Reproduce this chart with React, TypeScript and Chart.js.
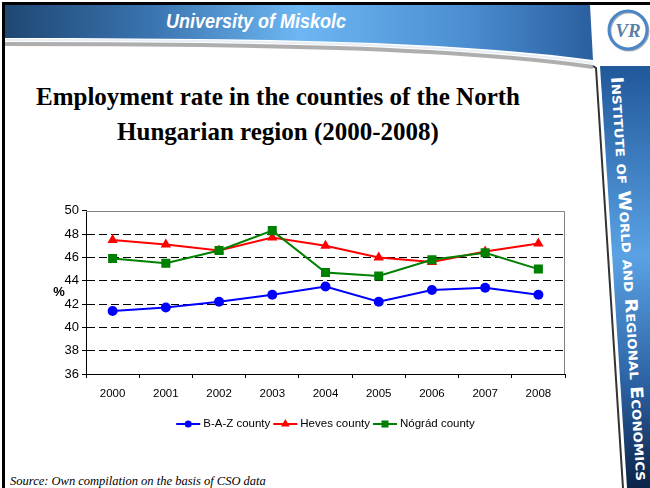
import React, { useEffect, useRef } from 'react';
import { Chart, registerables } from 'chart.js';

Chart.register(...registerables);

// ---- data ----
const years = ['2000', '2001', '2002', '2003', '2004', '2005', '2006', '2007', '2008'];
const bazValues = [41.4, 41.7, 42.2, 42.8, 43.5, 42.2, 43.2, 43.4, 42.8];
const hevesValues = [47.5, 47.1, 46.6, 47.7, 47.0, 46.0, 45.6, 46.5, 47.2];
const nogradValues = [45.9, 45.5, 46.6, 48.3, 44.7, 44.4, 45.8, 46.4, 45.0];
const seriesNames = ['B-A-Z county', 'Heves county', 'Nógrád county'];
const seriesColors = ['#0000FF', '#FF0000', '#008000'];
const seriesMarkers = ['circle', 'triangle', 'rect'];
const yMin = 36;
const yMax = 50;
const yStep = 2;
const yTitle = '%';
const chartTitleLines = ['Employment rate in the counties of the North', 'Hungarian region (2000-2008)'];
const headerText = 'University of Miskolc';
const sideText = 'Institute of World and Regional Economics';
const sourceText = 'Source: Own compilation on the basis of CSO data';

const SANS = '"Liberation Sans", Arial, sans-serif';

function drawMarker(ctx: CanvasRenderingContext2D, style: string, x: number, y: number, r: number, color: string) {
  ctx.save();
  ctx.fillStyle = color;
  ctx.beginPath();
  if (style === 'circle') {
    ctx.arc(x, y, r, 0, Math.PI * 2);
  } else if (style === 'triangle') {
    ctx.moveTo(x, y - r);
    ctx.lineTo(x + r * 0.866, y + r * 0.5);
    ctx.lineTo(x - r * 0.866, y + r * 0.5);
    ctx.closePath();
  } else {
    const s = r * 0.707;
    ctx.rect(x - s, y - s, 2 * s, 2 * s);
  }
  ctx.fill();
  ctx.restore();
}

const decorPlugin = {
  id: 'decor',
  beforeDatasetsDraw(chart: any) {
    const { ctx, chartArea } = chart;
    const top = Math.round(chartArea.top) + 0.5;
    const right = Math.round(chartArea.right) - 0.5;
    ctx.save();
    ctx.strokeStyle = '#808080';
    ctx.lineWidth = 1;
    ctx.beginPath();
    ctx.moveTo(chartArea.left, top);
    ctx.lineTo(right, top);
    ctx.lineTo(right, chartArea.bottom);
    ctx.stroke();
    ctx.restore();
  },
  afterDraw(chart: any) {
    const { ctx, chartArea } = chart;
    ctx.save();
    // y axis title (horizontal)
    ctx.font = `bold 13px ${SANS}`;
    ctx.fillStyle = '#000';
    ctx.textAlign = 'center';
    ctx.textBaseline = 'middle';
    ctx.fillText(yTitle, chartArea.left - 27, (chartArea.top + chartArea.bottom) / 2);

    // legend
    ctx.font = `11.5px ${SANS}`;
    const lineLen = 24;
    const gap = 3;
    const widths = seriesNames.map((n) => lineLen + gap + ctx.measureText(n).width);
    const total = widths.reduce((a, b) => a + b, 0) + gap * (seriesNames.length - 1);
    let x = (chartArea.left + chartArea.right) / 2 - total / 2;
    const y = chartArea.bottom + 50;
    seriesNames.forEach((name, i) => {
      ctx.strokeStyle = seriesColors[i];
      ctx.lineWidth = 2;
      ctx.beginPath();
      ctx.moveTo(x, y);
      ctx.lineTo(x + lineLen, y);
      ctx.stroke();
      drawMarker(ctx, seriesMarkers[i], x + lineLen / 2, y, seriesMarkers[i] === 'circle' ? 3.5 : 5, seriesColors[i]);
      ctx.fillStyle = '#000';
      ctx.textAlign = 'left';
      ctx.textBaseline = 'middle';
      ctx.fillText(name, x + lineLen + gap, y);
      x += widths[i] + gap;
    });
    ctx.restore();
  },
};

function LineChart() {
  const ref = useRef<HTMLCanvasElement | null>(null);
  useEffect(() => {
    if (!ref.current) return;
    const values = [bazValues, hevesValues, nogradValues];
    const radii = [5, 6, 6.4];
    const chart = new Chart(ref.current, {
      type: 'line',
      data: {
        labels: years,
        datasets: seriesNames.map((name, i) => ({
          label: name,
          data: values[i],
          borderColor: seriesColors[i],
          backgroundColor: seriesColors[i],
          borderWidth: 2,
          pointStyle: seriesMarkers[i] as any,
          pointRadius: radii[i],
          pointBackgroundColor: seriesColors[i],
          pointBorderColor: seriesColors[i],
          pointBorderWidth: 0,
          tension: 0,
          order: 3 - i,
        })),
      },
      options: {
        animation: false,
        responsive: false,
        devicePixelRatio: 1,
        layout: { padding: { left: 0, right: 15, top: 9, bottom: 0 } },
        plugins: { legend: { display: false }, tooltip: { enabled: false }, title: { display: false } },
        scales: {
          x: {
            offset: true,
            grid: {
              display: true,
              drawOnChartArea: false,
              drawTicks: true,
              tickLength: 4,
              offset: true,
              color: '#000',
            },
            border: { display: true, color: '#000', width: 1 },
            ticks: { color: '#000', font: { family: SANS, size: 11.5 }, padding: 9, maxRotation: 0, autoSkip: false },
            afterFit: (s: any) => {
              s.height = 71;
            },
          },
          y: {
            min: yMin,
            max: yMax,
            ticks: { stepSize: yStep, color: '#000', font: { family: SANS, size: 13 }, padding: 3 },
            grid: {
              color: (c: any) => (c.tick && (c.tick.value === yMax || c.tick.value === yMin) ? 'rgba(0,0,0,0)' : '#000'),
              tickColor: '#000',
              tickLength: 4,
              lineWidth: 1,
            },
            border: { display: true, color: '#000', width: 1, dash: [8, 4] },
            afterFit: (s: any) => {
              s.width = 46;
            },
          },
        },
      },
      plugins: [decorPlugin],
    });
    return () => chart.destroy();
  }, []);
  return (
    <canvas
      ref={ref}
      width={540}
      height={245}
      style={{ position: 'absolute', left: 40, top: 200, width: 540, height: 245 }}
    />
  );
}

export default function App() {
  return (
    <div style={{ position: 'fixed', left: 0, top: 0, width: 650, height: 488, overflow: 'hidden', background: '#fff' }}>
      <svg width="650" height="488" style={{ position: 'absolute', left: 0, top: 0 }}>
        <defs>
          <linearGradient id="hdr" x1="0" y1="0" x2="1" y2="0">
            <stop offset="0" stopColor="#1f4773" />
            <stop offset="0.25" stopColor="#3a74b0" />
            <stop offset="0.5" stopColor="#6db7f2" />
            <stop offset="0.78" stopColor="#4b8fd2" />
            <stop offset="1" stopColor="#2b5f9f" />
          </linearGradient>
          <linearGradient id="bar" x1="0" y1="0" x2="0" y2="1">
            <stop offset="0" stopColor="#20589a" />
            <stop offset="0.45" stopColor="#5aa2e4" />
            <stop offset="0.75" stopColor="#2c62a3" />
            <stop offset="1" stopColor="#0b2448" />
          </linearGradient>
        </defs>
        <path d="M5,5 L590,5 L593,60 C450,41 250,38 5,38 Z" fill="url(#hdr)" />
        <path d="M5,44 C250,44 450,47 593,67" stroke="#9a9a9a" strokeWidth="4" fill="none" opacity="0.8" />
        <path d="M5,40 C250,40 450,43 593,63" stroke="#e8eef5" strokeWidth="2" fill="none" />
        <path d="M600,66 L650,66 L650,488 L627,488 Z" fill="url(#bar)" />
        <path d="M593,66 L596,68 L623,488" stroke="#333" strokeWidth="2" fill="none" />
        <rect x="2" y="2" width="648" height="3" fill="#000" />
        <rect x="2" y="2" width="3" height="486" fill="#000" />
        <text
          x="256"
          y="28"
          textAnchor="middle"
          fill="#fff"
          fontFamily={SANS}
          fontWeight="bold"
          fontStyle="italic"
          fontSize="21"
          textLength="180"
          lengthAdjust="spacingAndGlyphs"
        >
          {headerText}
        </text>
        <circle cx="629" cy="31" r="19" fill="none" stroke="#a8aeb8" strokeWidth="3" />
        <circle cx="628" cy="30" r="19" fill="none" stroke="#4a86c8" strokeWidth="3" />
        <text x="628" y="37" textAnchor="middle" fontFamily="Liberation Serif, serif" fontStyle="italic" fontWeight="bold" fontSize="19" fill="#5a7fa8">
          VR
        </text>
        <text
          transform="translate(611,77) rotate(86.4)"
          fill="#fff"
          fontFamily="DejaVu Sans, sans-serif"
          fontSize="17"
          fontWeight="bold"
          style={{ fontVariant: 'small-caps' }}
          textLength="405"
          lengthAdjust="spacingAndGlyphs"
        >
          {sideText}
        </text>
        {chartTitleLines.map((t, i) => (
          <text
            key={i}
            x="278"
            y={105 + i * 35}
            textAnchor="middle"
            fontFamily="Liberation Serif, Times New Roman, serif"
            fontWeight="bold"
            fontSize="25"
            fill="#000"
          >
            {t}
          </text>
        ))}
        <text x="10" y="485" fontFamily="Liberation Serif, Times New Roman, serif" fontStyle="italic" fontSize="12.5" fill="#000">
          {sourceText}
        </text>
      </svg>
      <LineChart />
    </div>
  );
}
